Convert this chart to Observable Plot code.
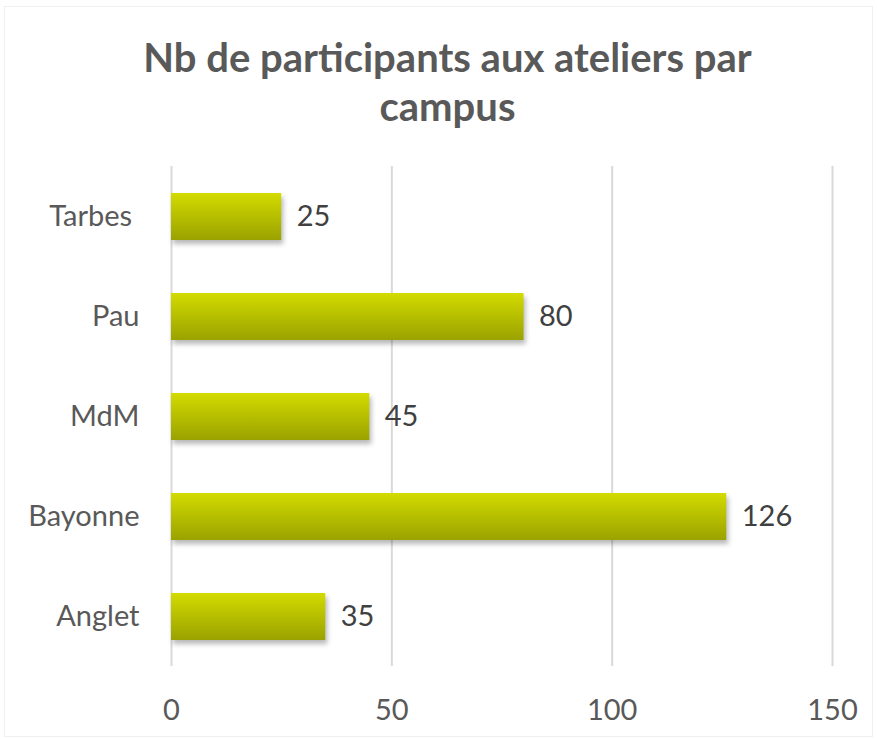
<!DOCTYPE html>
<html>
<head>
<meta charset="utf-8">
<script src="https://cdn.jsdelivr.net/npm/d3@7"></script>
<script src="https://cdn.jsdelivr.net/npm/@observablehq/plot@0.6"></script>
<style>
  html, body { margin: 0; padding: 0; background: #fff; }
  #wrap { width: 877px; height: 739px; position: relative; font-family: Lato, "Open Sans", sans-serif; }
  #frame { position: absolute; left: 4px; top: 6px; right: 4px; bottom: 2px; border: 1px solid #f0f0f0; pointer-events: none; }
  #title { position: absolute; left: 0; top: 33px; width: 895px; text-align: center; font-size: 40px; font-weight: bold; color: #595959; line-height: 49px; }
  #chart { position: absolute; left: 0; top: 140px; }
</style>
</head>
<body>
<div id="wrap">
  <div id="frame"></div>
  <div id="title">Nb de participants aux ateliers par<br>campus</div>
  <div id="chart"></div>
</div>
<script>
const campuses = ["Tarbes\u00a0", "Pau", "MdM", "Bayonne", "Anglet"];
const participants = [25, 80, 45, 126, 35];
const xTicks = [0, 50, 100, 150];

const data = campuses.map((c, i) => ({campus: c, value: participants[i]}));

const plot = Plot.plot({
  width: 877,
  height: 599,
  marginLeft: 171,
  marginRight: 45,
  marginTop: 26,
  marginBottom: 73,
  style: {fontFamily: "Lato, 'Open Sans', sans-serif", fontSize: "29px", color: "#595959", background: "transparent"},
  x: {domain: [0, 150], ticks: xTicks, label: null, grid: false},
  y: {domain: campuses, paddingInner: 0.53, paddingOuter: 0.265, label: null},
  marks: [
    Plot.ruleX(xTicks, {stroke: "#d9d9d9", strokeWidth: 2}),
    Plot.barX(data, {x: "value", y: "campus", fill: "#000", fillOpacity: 0.28, dx: 2, dy: 4, className: "shadow"}),
    Plot.barX(data, {x: "value", y: "campus", fill: "url(#barGrad)"}),
    Plot.text(data, {x: "value", y: "campus", text: d => String(d.value), textAnchor: "start", dx: 15, fontSize: 29, fill: "#404040"}),
    Plot.axisX({ticks: xTicks, tickSize: 0, tickPadding: 33, fontSize: 29, fill: "#595959", label: null}),
    Plot.axisY({tickSize: 0, tickPadding: 32, fontSize: 29, fill: "#595959", label: null})
  ]
});

const svg = d3.select(plot);
const defs = svg.insert("defs", ":first-child");
const g = defs.append("linearGradient").attr("id", "barGrad").attr("x1", 0).attr("y1", 0).attr("x2", 0).attr("y2", 1);
g.append("stop").attr("offset", "0%").attr("stop-color", "#d3db00");
g.append("stop").attr("offset", "100%").attr("stop-color", "#9aa200");
const f = defs.append("filter").attr("id", "blur").attr("x", "-10%").attr("y", "-30%").attr("width", "120%").attr("height", "160%");
f.append("feGaussianBlur").attr("stdDeviation", 2.5);
svg.selectAll("g.shadow rect, .shadow rect").attr("filter", "url(#blur)");

document.getElementById("chart").appendChild(plot);
</script>
</body>
</html>
